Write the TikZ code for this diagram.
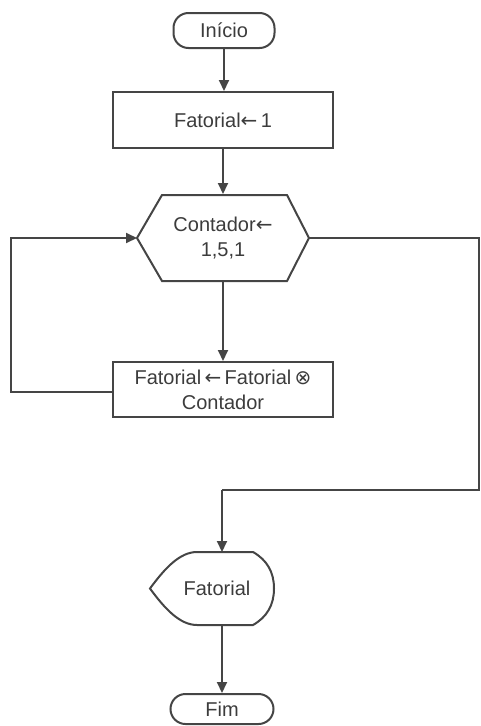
\documentclass[tikz,border=0pt]{standalone}
\usepackage{fontspec}
\setmainfont{Liberation Sans}
\newfontfamily\symfont{DejaVu Sans}
\usetikzlibrary{arrows.meta}
\definecolor{ln}{HTML}{454545}
\definecolor{tx}{HTML}{3C3C3C}
\begin{document}
\begin{tikzpicture}[x=1pt,y=-1pt, line width=2pt, color=ln, text=tx,
 font=\fontsize{20}{25}\selectfont,
 arr/.style={-{Triangle[length=11pt,width=10pt]}},
 term/.style={draw, rounded corners=15pt, minimum width=101pt, minimum height=33pt, inner sep=0},
 proc/.style={draw, minimum width=220pt, inner sep=0, align=center},
 ghost/.style={inner sep=0, align=center}]
\useasboundingbox (0,0) rectangle (480,726);

\node[term, minimum height=35pt] (ini) at (224,30.5) {Início};
\node[proc, minimum height=56pt] (f1) at (223,120) {Fatorial{\symfont←}\,1};
\node[ghost, minimum width=170pt, minimum height=86pt] (hex) at (223,238) {Contador{\symfont←}\\1,5,1};
\draw (hex.west) -- (162,195) -- (287,195) -- (hex.east) -- (287,281) -- (162,281) -- cycle;
\node[proc, minimum height=55pt] (f2) at (223,389.5) {Fatorial\,{\symfont←}\,Fatorial\,{\symfont ⊗}\\Contador};
\node[ghost, minimum width=124pt, minimum height=73pt] (out) at (212,588.5) {\hspace*{10pt}Fatorial};
\draw (150,588.5) .. controls (165,568) and (180,552) .. (197,552) -- (253,552)
  .. controls (267,560) and (274,572) .. (274,588.5)
  .. controls (274,605) and (267,617) .. (253,625) -- (197,625)
  .. controls (180,625) and (165,609) .. cycle;
\node[term, minimum width=103pt, minimum height=30pt] (fim) at (222,709) {Fim};

\coordinate (out-top) at (222,552);
\coordinate (r1) at (479,238);
\coordinate (r2) at (479,490);
\coordinate (l1) at (11,392);
\coordinate (l2) at (11,238);

\draw[arr] (ini.south) -- (ini.south |- f1.north);
\draw[arr] (f1.south) -- (f1.south |- hex.north);
\draw[arr] (hex.south) -- (hex.south |- f2.north);
\draw[arr] (f2.west |- l1) -- (l1) -- (l2) -- (hex.west);
\draw (hex.east) -- (r1) -- (r2) -- (out-top |- r2);
\draw[arr] (out-top |- r2) -- (out-top);
\draw[arr] (out.south -| out-top) -- (fim.north -| out-top);
\end{tikzpicture}
\end{document}
